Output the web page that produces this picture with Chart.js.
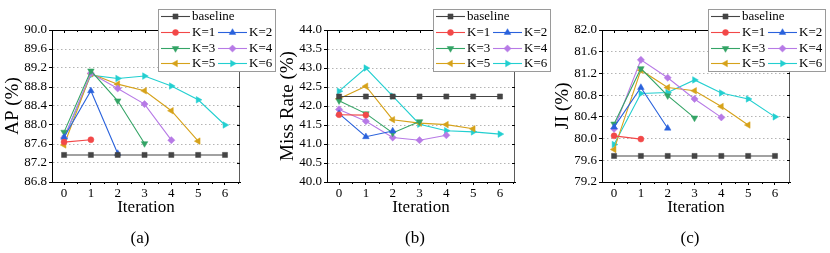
<!DOCTYPE html>
<html>
<head>
<meta charset="utf-8">
<script src="https://cdn.jsdelivr.net/npm/chart.js@4.4.1/dist/chart.umd.min.js"></script>
<style>
  html, body { margin: 0; padding: 0; background: #fff; }
  #wrap { position: relative; width: 830px; height: 253px; overflow: hidden; }
  .panel { position: absolute; top: 0; width: 280px; height: 253px; }
  .tag { position: absolute; top: 228px; width: 60px; margin-left: -30px; text-align: center;
         font: 17px "Liberation Serif", "Times New Roman", serif; color: #000; }
</style>
</head>
<body>
<div id="wrap">
  <div class="panel" style="left:0px"><canvas id="chartA" width="280" height="253"></canvas></div>
  <div class="panel" style="left:275px"><canvas id="chartB" width="280" height="253"></canvas></div>
  <div class="panel" style="left:550px"><canvas id="chartC" width="280" height="253"></canvas></div>
  <div class="tag" style="left:140px">(a)</div>
  <div class="tag" style="left:415px">(b)</div>
  <div class="tag" style="left:690px">(c)</div>
</div>
<script>
// ---- data ----
const iterations = [0, 1, 2, 3, 4, 5, 6];
const seriesNames = ["baseline", "K=1", "K=2", "K=3", "K=4", "K=5", "K=6"];

// (a) AP (%)
const apBaseline = [87.37, 87.37, 87.37, 87.37, 87.37, 87.37, 87.37];
const apK1 = [87.64, 87.69];
const apK2 = [87.74, 88.72, 87.40];
const apK3 = [87.85, 89.14, 88.51, 87.61];
const apK4 = [87.73, 89.09, 88.77, 88.44, 87.68];
const apK5 = [87.58, 89.08, 88.86, 88.72, 88.30, 87.66];
const apK6 = [87.72, 89.05, 88.98, 89.03, 88.82, 88.53, 88.00];

// (b) Miss Rate (%)
const mrBaseline = [42.25, 42.25, 42.25, 42.25, 42.25, 42.25, 42.25];
const mrK1 = [41.77, 41.76];
const mrK2 = [41.80, 41.19, 41.34];
const mrK3 = [42.14, 41.80, 41.29, 41.59];
const mrK4 = [41.91, 41.60, 41.17, 41.10, 41.23];
const mrK5 = [42.19, 42.52, 41.64, 41.55, 41.51, 41.40];
const mrK6 = [42.39, 43.00, 42.26, 41.52, 41.35, 41.32, 41.26];

// (c) JI (%)
const jiBaseline = [79.68, 79.68, 79.68, 79.68, 79.68, 79.68, 79.68];
const jiK1 = [80.05, 79.99];
const jiK2 = [80.21, 80.94, 80.19];
const jiK3 = [80.27, 81.29, 80.79, 80.38];
const jiK4 = [80.18, 81.45, 81.12, 80.73, 80.39];
const jiK5 = [79.80, 81.26, 80.94, 80.88, 80.59, 80.25];
const jiK6 = [79.89, 80.83, 80.85, 81.08, 80.84, 80.73, 80.40];

// y axis ranges / tick steps
const apTicks = { min: 86.8, max: 90.0, step: 0.4 };
const mrTicks = { min: 40.0, max: 44.0, step: 0.5 };
const jiTicks = { min: 79.2, max: 82.0, step: 0.4 };

// ---- styles ----
const FONT = "'Liberation Serif', 'Times New Roman', serif";
const styles = [
    { color: "#454545", point: "rect", rotation: 0, radius: 3.6 },
    { color: "#f24848", point: "circle", rotation: 0, radius: 3 },
    { color: "#2a62dc", point: "triangle", rotation: 0, radius: 3.8 },
    { color: "#34a466", point: "triangle", rotation: 180, radius: 3.8 },
    { color: "#b77ae6", point: "rectRot", rotation: 0, radius: 3.6 },
    { color: "#d6a21a", point: "triangle", rotation: 270, radius: 3.8 },
    { color: "#22cfd0", point: "triangle", rotation: 90, radius: 3.8 }
];

function makeDatasets(series) {
    return series.map((values, i) => ({
        label: seriesNames[i],
        data: values.map((v, j) => ({ x: iterations[j], y: v })),
        borderColor: styles[i].color,
        backgroundColor: styles[i].color,
        borderWidth: 1.1,
        pointStyle: styles[i].point,
        rotation: styles[i].rotation,
        pointRadius: styles[i].radius,
        pointBorderWidth: 0.5,
        pointHoverRadius: styles[i].radius,
        tension: 0
    }));
}

// top / right frame with inward ticks, minor ticks, and the boxed two-column legend
const framePlugin = {
    id: "frame",
    afterDatasetsDraw(chart) {
        const { ctx, chartArea: a, scales: { x, y } } = chart;
        ctx.save();
        ctx.lineWidth = 1;
        ctx.strokeStyle = "#000";
        ctx.beginPath();
        ctx.moveTo(a.left, a.top + 0.5);
        ctx.lineTo(a.right, a.top + 0.5);
        ctx.stroke();
        ctx.strokeStyle = "#5a5a5a";
        ctx.beginPath();
        ctx.moveTo(a.right - 0.5, a.top);
        ctx.lineTo(a.right - 0.5, a.bottom);
        ctx.stroke();
        ctx.strokeStyle = "#000";
        ctx.beginPath();
        for (let v = -0.5; v <= 6.5; v += 0.5) {
            const px = Math.round(x.getPixelForValue(v)) + 0.5;
            if (px < a.left || px > a.right) continue;
            const len = Number.isInteger(v) ? 3 : 2;
            ctx.moveTo(px, a.top);
            ctx.lineTo(px, a.top + len);
            if (!Number.isInteger(v)) {
                ctx.moveTo(px, a.bottom);
                ctx.lineTo(px, a.bottom + 2);
            }
        }
        y.ticks.forEach(t => {
            const py = Math.round(y.getPixelForValue(t.value)) + 0.5;
            ctx.moveTo(a.right, py);
            ctx.lineTo(a.right - 3, py);
        });
        ctx.stroke();
        ctx.restore();
    },
    afterDraw(chart) {
        const ctx = chart.ctx;
        const ds = chart.data.datasets;
        const box = { x: 158, y: 9, w: 118, h: 63 };
        ctx.save();
        ctx.fillStyle = "#fff";
        ctx.fillRect(box.x, box.y, box.w, box.h);
        ctx.strokeStyle = "#9a9a9a";
        ctx.lineWidth = 1;
        ctx.strokeRect(box.x + 0.5, box.y + 0.5, box.w - 1, box.h - 1);

        const rows = [[0, null], [1, 2], [3, 4], [5, 6]];
        const rowY = [16, 32, 48, 63];
        const lineX = [161, 218];
        const textX = [192, 249];
        ctx.font = "13px " + FONT;
        ctx.textBaseline = "middle";
        rows.forEach((row, r) => {
            row.forEach((idx, c) => {
                if (idx === null) return;
                const d = ds[idx];
                const yy = rowY[r] + 0.5;
                ctx.strokeStyle = d.borderColor;
                ctx.lineWidth = 1.1;
                ctx.beginPath();
                ctx.moveTo(lineX[c], yy);
                ctx.lineTo(lineX[c] + 29, yy);
                ctx.stroke();
                ctx.fillStyle = d.backgroundColor;
                ctx.strokeStyle = d.borderColor;
                ctx.lineWidth = 0.5;
                if (Chart.helpers && Chart.helpers.drawPoint) {
                    Chart.helpers.drawPoint(ctx, {
                        pointStyle: d.pointStyle, rotation: d.rotation,
                        radius: d.pointRadius, borderWidth: 0.5
                    }, lineX[c] + 14.5, yy);
                }
                ctx.fillStyle = "#000";
                ctx.fillText(d.label, textX[c], yy + 0.5);
            });
        });
        ctx.restore();
    }
};

function makeChart(id, series, range, yTitle) {
    const ctx = document.getElementById(id);
    if (!ctx) return;
    new Chart(ctx, {
        type: "line",
        data: { datasets: makeDatasets(series) },
        options: {
            responsive: false,
            animation: false,
            devicePixelRatio: 1,
            layout: { padding: { left: 0, right: 40, top: 30, bottom: 0 } },
            plugins: { legend: { display: false }, tooltip: { enabled: false } },
            scales: {
                x: {
                    type: "linear",
                    min: -0.45,
                    max: 6.56,
                    afterFit: s => { s.height = 71; },
                    ticks: {
                        stepSize: 1,
                        includeBounds: false,
                        autoSkip: false,
                        maxRotation: 0,
                        padding: 1,
                        color: "#000",
                        font: { family: FONT, size: 13 },
                        callback: v => String(v)
                    },
                    grid: { drawOnChartArea: false, tickLength: 3, tickColor: "#000" },
                    border: { color: "#000", width: 1 },
                    title: {
                        display: true,
                        text: "Iteration",
                        color: "#000",
                        font: { family: FONT, size: 17 },
                        padding: { top: 0, bottom: 35 }
                    }
                },
                y: {
                    min: range.min,
                    max: range.max,
                    afterFit: s => { s.width = 52; },
                    ticks: {
                        stepSize: range.step,
                        padding: 2,
                        color: "#000",
                        font: { family: FONT, size: 13 },
                        callback: v => v.toFixed(1)
                    },
                    grid: { color: "#b4b4b4", lineWidth: 1, tickLength: 3, tickColor: "#000", tickBorderDash: [] },
                    border: { color: "#000", width: 1, dash: [1.5, 2.5] },
                    title: {
                        display: true,
                        text: yTitle,
                        color: "#000",
                        font: { family: FONT, size: 19 },
                        padding: { top: 2, bottom: 0 }
                    }
                }
            }
        },
        plugins: [framePlugin]
    });
}

makeChart("chartA", [apBaseline, apK1, apK2, apK3, apK4, apK5, apK6], apTicks, "AP (%)");
makeChart("chartB", [mrBaseline, mrK1, mrK2, mrK3, mrK4, mrK5, mrK6], mrTicks, "Miss Rate (%)");
makeChart("chartC", [jiBaseline, jiK1, jiK2, jiK3, jiK4, jiK5, jiK6], jiTicks, "JI (%)");
</script>
</body>
</html>
